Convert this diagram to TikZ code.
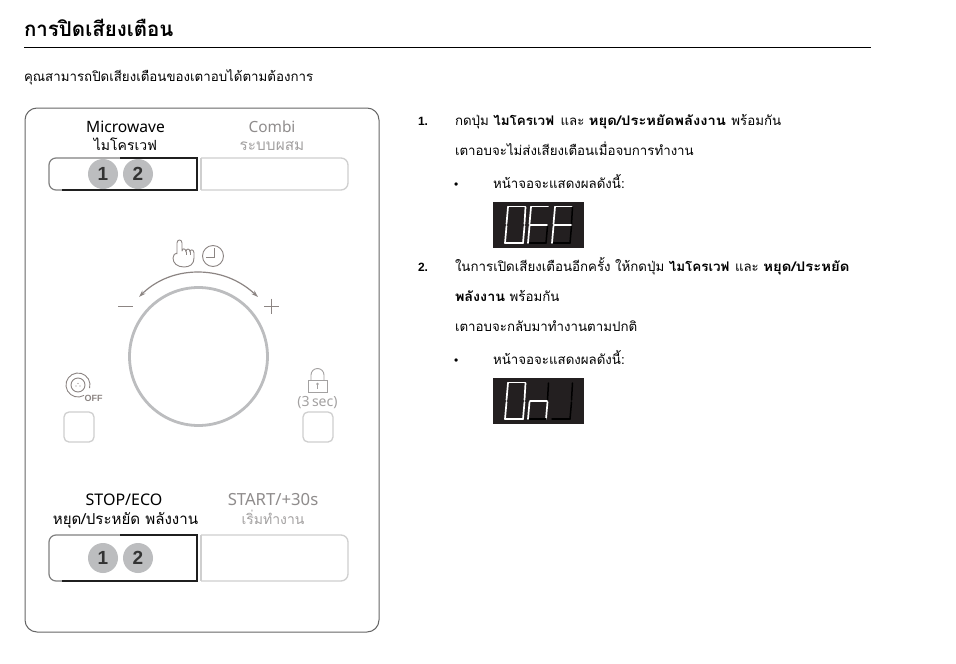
\documentclass[tikz,border=0pt]{standalone}
\usepackage{graphicx}
\usepackage{fontspec}
\setmainfont{Liberation Sans}
\newfontfamily\thaifont[Script=Thai]{Loma}
\newfontfamily\panelfont{Noto Sans}
\newfontfamily\digitfont{Liberation Sans}
\usetikzlibrary{arrows.meta}
\definecolor{txtgray}{HTML}{8F8C8C}
\definecolor{thaigray}{HTML}{A3A1A1}
\definecolor{framegray}{HTML}{666666}
\definecolor{disc}{HTML}{BCBDBF}
\definecolor{iconline}{HTML}{8C8583}
\definecolor{lcd}{HTML}{231F20}
\definecolor{lightbtn}{HTML}{CFCFCF}
\definecolor{softedge}{HTML}{808080}
\newcommand{\bx}[2]{\scalebox{#1}[1]{\bfseries #2}}
\newcommand{\thsz}[1]{\thaifont\fontsize{#1}{#1}\selectfont}
\newcommand{\lasz}[1]{\panelfont\fontsize{#1}{#1}\selectfont}
\tikzset{
  x=1pt,y=-1pt,
  every node/.style={inner sep=0pt,outer sep=0pt},
  body/.style={anchor=base west,font=\thsz{13.3},text=black},
  num/.style={anchor=base west,font=\fontsize{12}{14}\selectfont\bfseries,text=black},
  pl/.style={anchor=base},
  pt/.style={anchor=base},
  disc1/.style={circle,fill=disc,minimum size=30pt,font=\digitfont\fontsize{19}{21}\selectfont\bfseries,text=black!80},
  softbtn/.style={draw=softedge,line width=1.2pt},
  darkbtn/.style={draw=black!88,line width=1.4pt},
  palebtn/.style={draw=lightbtn,line width=1.3pt},
  lit/.style={draw=white,line width=1.7pt,line cap=round},
  unlit/.style={draw=black,line width=1.5pt,line cap=round},
  segnone/.style={draw=none},
  icon/.style={draw=iconline,line width=0.9pt},
  paleicon/.style={draw=thaigray,line width=0.9pt},
}
% seven-segment digit: #1 = left x, #2..#8 = styles of a,b,c,d,e,f,g
\newcommand{\segdigit}[8]{%
  \draw[#2] (#1+3,206.5) -- (#1+20,206.5);
  \draw[#3] (#1+20.5,207) -- (#1+19.5,224);
  \draw[#4] (#1+19.5,226) -- (#1+18,243);
  \draw[#5] (#1+0,243) -- (#1+18,243);
  \draw[#6] (#1+1.5,226) -- (#1+0,243);
  \draw[#7] (#1+3,207) -- (#1+1.5,224);
  \draw[#8] (#1+2,225) -- (#1+19,225);
}
\begin{document}
\begin{tikzpicture}
\useasboundingbox[fill=white] (0,0) rectangle (956,664);

% heading
\node[anchor=base west,font=\thsz{20.5}\bfseries] (title) at (24,36) {การปิดเสียงเตือน};
\draw[black,line width=1pt] (24,47.5) -- (871,47.5);
\node[body] (intro) at (24,81) {คุณสามารถปิดเสียงเตือนของเตาอบได้ตามต้องการ};

% panel
\draw[framegray,line width=1pt,rounded corners=12pt] (25,108) rectangle (379,632);

\node[pl,font=\lasz{15.6},text=black] (mw) at (125.5,132) {Microwave};
\node[pt,font=\thsz{14},text=black] (mwt) at (125.5,150) {ไมโครเวฟ};
\node[pl,font=\lasz{15.4},text=txtgray] (cb) at (272,132) {Combi};
\node[pt,font=\thsz{15.4},text=thaigray] (cbt) at (272,150) {ระบบผสม};

\draw[palebtn,rounded corners=7pt] (201,158) -- (348,158) -- (348,190) -- (201,190);
\draw[palebtn] (201,158) -- (201,190);
\draw[softbtn,rounded corners=7pt] (130,158) -- (49,158) -- (49,190) -- (70,190);
\draw[darkbtn] (120,158) -- (197,158) -- (197,190) -- (62,190);
\node[disc1] (a1) at (103,174) {1};
\node[disc1] (a2) at (138,174) {2};

% dial
\draw[disc,line width=2.8pt] (198.5,356.5) circle[radius=69];
\draw[iconline,line width=1.2pt,-{Stealth[length=7pt,width=4.5pt]}] (198,272) .. controls (172,272) and (153,283) .. (139,297);
\draw[iconline,line width=1.2pt,-{Stealth[length=7pt,width=4.5pt]}] (198,272) .. controls (224,272) and (243,283) .. (258,297);
\draw[iconline,line width=1pt] (118,306) -- (133,306);
\draw[iconline,line width=1pt] (264,306) -- (279,306) (271.5,298.5) -- (271.5,313.5);

% hand icon
\draw[icon,line join=round] (177,254) -- (177,243) .. controls (177,239) and (182,239) .. (182,243)
  -- (182,251) .. controls (182,248) and (186,248) .. (186,252)
  .. controls (186,248) and (190,248) .. (190,252)
  .. controls (190,249) and (194,249) .. (194,253)
  -- (194,258) .. controls (194,264) and (190,267) .. (184,267)
  .. controls (177,267) and (173,263) .. (173,258) .. controls (173,255) and (175,253) .. (177,253);
\draw[icon] (186,252) -- (186,255) (190,252) -- (190,255);
% clock icon
\draw[icon] (213,256) circle[radius=10.5];
\draw[icon] (206,257) -- (214,257) -- (214,248);

% sound-off icon
\draw[icon] (84,395.4) arc[start angle=60,end angle=375,radius=12];
\draw[icon] (78,385) circle[radius=7];
\fill[iconline] (76,386) circle[radius=0.6] (80,386) circle[radius=0.6] (78,383.5) circle[radius=0.6];
\node[anchor=base,font=\digitfont\fontsize{9}{10}\selectfont\bfseries,text=iconline] (off) at (93.5,401) {OFF};
\draw[palebtn,rounded corners=5pt] (64,412) rectangle (94,442);

% lock icon
\draw[paleicon] (308,380) rectangle (327,392);
\draw[paleicon] (311,380) -- (311,375) arc[start angle=180,end angle=360,radius=6.5] -- (324,380);
\fill[thaigray] (317.5,384) circle[radius=1.4];
\draw[thaigray,line width=0.8pt] (317.5,384) -- (317.5,389);
\node[anchor=base,font=\lasz{14},text=thaigray] (sec) at (317.5,406) {(3\,sec)};
\draw[palebtn,rounded corners=5pt] (303,412) rectangle (333,442);

% lower buttons
\node[pl,font=\lasz{16},text=black] (st) at (124,505) {STOP/ECO};
\node[pt,font=\thsz{15.1},text=black] (stt) at (125.5,524) {หยุด/ประหยัด พลังงาน};
\node[pl,font=\lasz{16.7},text=txtgray] (sr) at (273,505) {START/+30s};
\node[pt,font=\thsz{14},text=thaigray] (srt) at (273,524) {เริ่มทำงาน};
\draw[palebtn,rounded corners=7pt] (201,535) -- (348,535) -- (348,581) -- (201,581);
\draw[palebtn] (201,535) -- (201,581);
\draw[softbtn,rounded corners=7pt] (130,535) -- (49,535) -- (49,581) -- (70,581);
\draw[darkbtn] (120,535) -- (197,535) -- (197,581) -- (62,581);
\node[disc1] (b1) at (103,558) {1};
\node[disc1] (b2) at (138,558) {2};

% instructions
\node[num] (n1) at (418,125) {1.};
\node[body] (l1) at (455,125) {กดปุ่ม \bx{1.01}{ไมโครเวฟ}\kern2pt{} และ \bx{1.11}{หยุด/ประหยัดพลังงาน}\kern1pt{} พร้อมกัน};
\node[body] (l2) at (455,155) {เตาอบจะไม่ส่งเสียงเตือนเมื่อจบการทำงาน};
\node[num,font=\fontsize{12}{14}\selectfont] (b1t) at (454,188) {•};
\node[body] (l3) at (493,188) {หน้าจอจะแสดงผลดังนี้:};

\fill[lcd] (493,202) rectangle (584,248);
\segdigit{505}{lit}{lit}{lit}{lit}{lit}{lit}{segnone}
\segdigit{528}{lit}{segnone}{unlit}{unlit}{lit}{lit}{lit}
\segdigit{552}{lit}{unlit}{unlit}{unlit}{lit}{lit}{lit}

\node[num] (n2) at (418,271) {2.};
\node[body] (l4) at (455,271) {ในการเปิดเสียงเตือนอีกครั้ง ให้กดปุ่ม \bx{1.01}{ไมโครเวฟ}\kern1pt{} และ \bx{1.12}{หยุด/ประหยัด}};
\node[body] (l5) at (455,301) {\bx{1.08}{พลังงาน} พร้อมกัน};
\node[body] (l6) at (455,331) {เตาอบจะกลับมาทำงานตามปกติ};
\node[num,font=\fontsize{12}{14}\selectfont] (b2t) at (454,364) {•};
\node[body] (l7) at (493,364) {หน้าจอจะแสดงผลดังนี้:};

\fill[lcd] (493,378) rectangle (584,424);
\begin{scope}[yshift=-176pt]
\segdigit{505}{lit}{lit}{lit}{lit}{lit}{lit}{segnone}
\segdigit{528}{segnone}{unlit}{lit}{unlit}{lit}{segnone}{lit}
\segdigit{552}{segnone}{unlit}{unlit}{unlit}{segnone}{segnone}{segnone}
\end{scope}
\end{tikzpicture}
\end{document}
